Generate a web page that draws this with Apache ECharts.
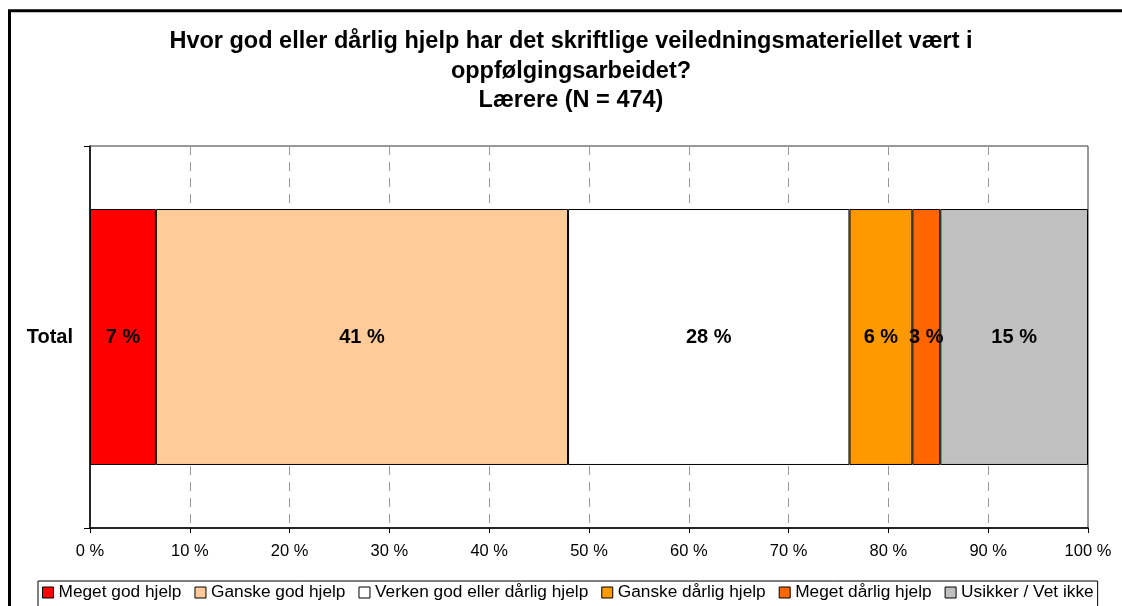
<!DOCTYPE html>
<html>
<head>
<meta charset="utf-8">
<script src="https://cdn.jsdelivr.net/npm/echarts@6/dist/echarts.min.js"></script>
<style>
  html, body { margin: 0; padding: 0; background: #fff; }
  #chart { width: 1122px; height: 606px; }
</style>
</head>
<body>
<div id="chart"></div>
<script>
// Survey answers, share of respondents (%)
const categories = ['Total'];
const seriesNames = [
  'Meget god hjelp',
  'Ganske god hjelp',
  'Verken god eller dårlig hjelp',
  'Ganske dårlig hjelp',
  'Meget dårlig hjelp',
  'Usikker / Vet ikke'
];
const meget_god = [6.6];
const ganske_god = [41.3];
const verken = [28.2];
const ganske_darlig = [6.3];
const meget_darlig = [2.8];
const usikker = [14.8];
const xTicks = [0, 10, 20, 30, 40, 50, 60, 70, 80, 90, 100];

const titleLines = [
  'Hvor god eller dårlig hjelp har det skriftlige veiledningsmateriellet vært i',
  'oppfølgingsarbeidet?',
  'Lærere (N = 474)'
];

const colors = ['#FF0000', '#FFCC99', '#FFFFFF', '#FF9900', '#FF6600', '#C0C0C0'];
const values = [meget_god, ganske_god, verken, ganske_darlig, meget_darlig, usikker];
const FONT = '"Liberation Sans", Arial, sans-serif';

const chart = echarts.init(document.getElementById('chart'), null, { renderer: 'canvas' });

const titleY = [42, 71.5, 101];

chart.setOption({
  animation: false,
  backgroundColor: '#fff',
  textStyle: { fontFamily: FONT },
  graphic: [
    {
      type: 'rect',
      shape: { x: 9.5, y: 10.8, width: 1300, height: 800 },
      style: { fill: null, stroke: '#000', lineWidth: 3 },
      silent: true
    }
  ].concat(titleLines.map((t, i) => ({
    type: 'text',
    x: 571,
    y: titleY[i],
    style: {
      text: t,
      fill: '#000',
      font: 'bold 23.5px ' + FONT,
      textAlign: 'center',
      textVerticalAlign: 'middle'
    }
  }))),
  grid: {
    left: 90, right: 34, top: 146, bottom: 78,
    show: true, borderColor: '#333', borderWidth: 1, backgroundColor: '#fff'
  },
  legend: {
    data: seriesNames,
    left: 38,
    top: 581,
    orient: 'horizontal',
    padding: [3, 4, 6, 4],
    itemGap: 13,
    itemWidth: 11,
    itemHeight: 11,
    icon: 'rect',
    borderColor: '#000',
    borderWidth: 1,
    backgroundColor: '#fff',
    itemStyle: { borderColor: '#000', borderWidth: 1 },
    textStyle: { fontFamily: FONT, fontSize: 17.3, color: '#000' }
  },
  xAxis: {
    type: 'value',
    min: 0,
    max: 100,
    interval: 10,
    axisLine: { show: true, lineStyle: { color: '#000', width: 1.5 } },
    axisTick: { show: true, length: 5, lineStyle: { color: '#000' } },
    axisLabel: {
      formatter: v => (xTicks.includes(v) ? v + ' %' : ''),
      fontFamily: FONT, fontSize: 16.5, color: '#000', margin: 15
    },
    splitLine: { show: true, lineStyle: { color: '#999', type: [9, 7], width: 1 } }
  },
  yAxis: {
    type: 'category',
    data: categories,
    axisLine: { show: true, lineStyle: { color: '#000', width: 1.5 } },
    axisTick: { show: true, length: 6, lineStyle: { color: '#000' } },
    axisLabel: { fontFamily: FONT, fontSize: 20, fontWeight: 'bold', color: '#000', margin: 17 }
  },
  series: seriesNames.map((name, i) => ({
    name,
    type: 'bar',
    stack: 'total',
    barWidth: '67%',
    data: values[i],
    itemStyle: { color: colors[i], borderColor: '#000', borderWidth: 1 },
    label: {
      show: true,
      position: 'inside',
      formatter: p => Math.round(p.value) + ' %',
      fontFamily: FONT,
      fontSize: 20,
      fontWeight: 'bold',
      color: '#000'
    },
    labelLayout: { hideOverlap: false }
  }))
});
</script>
</body>
</html>
